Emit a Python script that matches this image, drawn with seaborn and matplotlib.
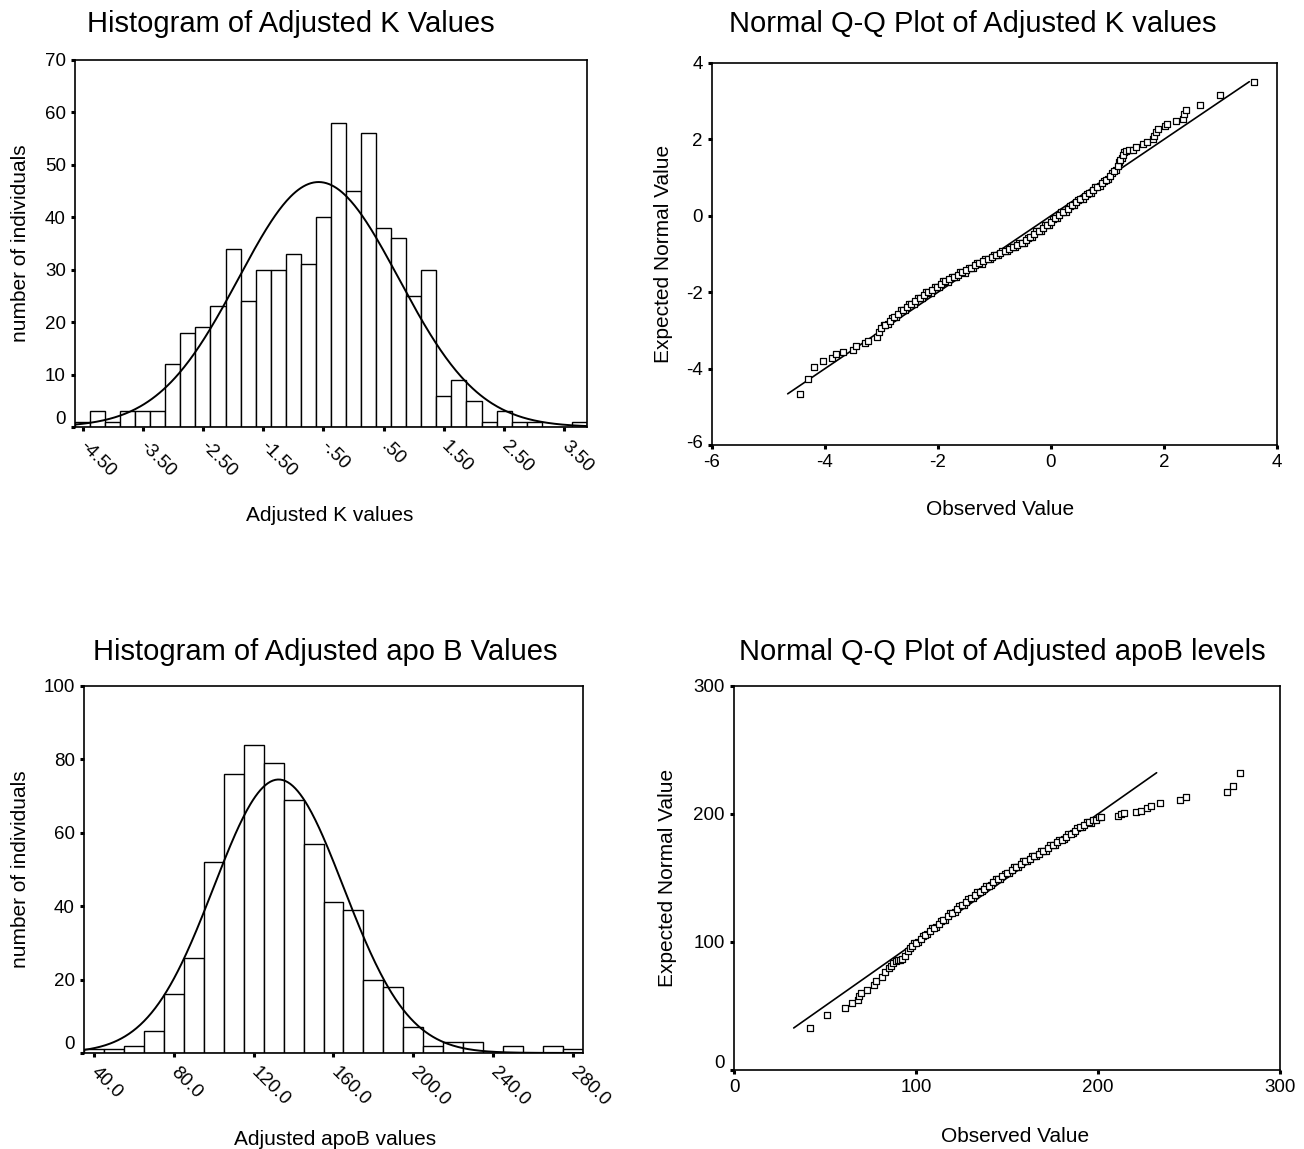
import numpy as np
import matplotlib
matplotlib.use("Agg")
import matplotlib.pyplot as plt
import matplotlib.transforms as mtransforms
import seaborn as sns

# ---- histogram of adjusted K values (bin centres, width 0.25) ----
k_centers = [-4.50, -4.25, -4.00, -3.75, -3.50, -3.25, -3.00, -2.75, -2.50, -2.25,
             -2.00, -1.75, -1.50, -1.25, -1.00, -0.75, -0.50, -0.25, 0.00, 0.25,
             0.50, 0.75, 1.00, 1.25, 1.50, 1.75, 2.00, 2.25, 2.50, 2.75,
             3.00, 3.25, 3.50, 3.75]
k_counts = [1, 3, 1, 3, 3, 3, 12, 18, 19, 23,
            34, 24, 30, 30, 33, 31, 40, 58, 45, 56,
            38, 36, 25, 30, 6, 9, 5, 1, 3, 1,
            1, 0, 0, 1]
k_tick_labels = ["-4.50", "-3.50", "-2.50", "-1.50", "-.50", ".50", "1.50", "2.50", "3.50"]
k_mean, k_sd = -0.58, 1.33

# ---- histogram of adjusted apoB values (bin centres, width 10) ----
b_centers = [40, 50, 60, 70, 80, 90, 100, 110, 120, 130, 140, 150, 160,
             170, 180, 190, 200, 210, 220, 230, 240, 250, 260, 270, 280]
b_counts = [1, 1, 2, 6, 16, 26, 52, 76, 84, 79, 69, 57, 41,
            39, 20, 18, 7, 2, 3, 3, 0, 2, 0, 2, 1]
b_tick_labels = ["40.0", "80.0", "120.0", "160.0", "200.0", "240.0", "280.0"]
b_mean, b_sd = 132.5, 32.5

# ---- normal Q-Q plot, adjusted K values (observed, expected) ----
k_observed = [-4.45, -4.30, -4.19, -4.03, -3.87, -3.80, -3.69, -3.51, -3.45, -3.30, -3.24, -3.08, -3.05,
              -3.00, -2.93, -2.85, -2.78, -2.70, -2.62, -2.55, -2.47, -2.40, -2.32,
              -2.25, -2.17, -2.10, -2.02, -1.95, -1.87, -1.80, -1.72, -1.65, -1.57,
              -1.50, -1.42, -1.35, -1.27, -1.20, -1.12, -1.05, -0.97, -0.90, -0.82,
              -0.75, -0.67, -0.60, -0.52, -0.45, -0.37, -0.30, -0.22, -0.15, -0.07,
              0.00, 0.07, 0.15, 0.22, 0.30, 0.37, 0.45, 0.52, 0.60, 0.67,
              0.75, 0.82, 0.90, 0.97, 1.05, 1.12, 1.18, 1.23, 1.28, 1.32,
              1.38, 1.45, 1.50, 1.63, 1.70, 1.80, 1.83, 1.86, 1.89, 2.01,
              2.06, 2.22, 2.34, 2.36, 2.39, 2.63, 2.99, 3.60]
k_expected = [-4.66, -4.28, -3.97, -3.80, -3.72, -3.61, -3.56, -3.52, -3.40, -3.33, -3.27, -3.16, -3.03,
              -2.95, -2.85, -2.75, -2.66, -2.56, -2.46, -2.38, -2.30, -2.22, -2.14,
              -2.07, -2.00, -1.93, -1.86, -1.79, -1.72, -1.66, -1.60, -1.54, -1.48,
              -1.42, -1.36, -1.30, -1.24, -1.18, -1.12, -1.07, -1.02, -0.97, -0.92,
              -0.87, -0.82, -0.76, -0.70, -0.64, -0.56, -0.48, -0.40, -0.32, -0.24,
              -0.15, -0.07, 0.02, 0.10, 0.19, 0.27, 0.35, 0.43, 0.51, 0.59,
              0.68, 0.76, 0.85, 0.94, 1.04, 1.16, 1.30, 1.45, 1.60, 1.70,
              1.72, 1.73, 1.80, 1.87, 1.93, 2.02, 2.10, 2.19, 2.26, 2.34,
              2.41, 2.47, 2.53, 2.66, 2.78, 2.91, 3.15, 3.51]
# second reading pass through the dense band (its thickness)
k_band_observed = [-2.96, -2.89, -2.81, -2.74, -2.66, -2.58, -2.51, -2.43, -2.36, -2.28,
                   -2.21, -2.13, -2.06, -1.98, -1.91, -1.83, -1.76, -1.68, -1.61, -1.53,
                   -1.46, -1.38, -1.31, -1.23, -1.16, -1.08, -1.01, -0.93, -0.86, -0.78,
                   -0.71, -0.63, -0.56, -0.48, -0.41, -0.33, -0.26, -0.18, -0.11, -0.03,
                   0.04, 0.11, 0.18, 0.26, 0.33, 0.41, 0.48, 0.56, 0.63, 0.71,
                   0.78, 0.86, 0.93, 1.01, 1.08, 1.15, 1.21, 1.25, 1.30]
k_band_expected = [-2.86, -2.84, -2.67, -2.65, -2.47, -2.46, -2.30, -2.30, -2.14, -2.15,
                   -2.00, -2.01, -1.86, -1.87, -1.72, -1.73, -1.60, -1.61, -1.48, -1.49,
                   -1.36, -1.37, -1.24, -1.25, -1.12, -1.13, -1.02, -1.03, -0.91, -0.93,
                   -0.82, -0.83, -0.70, -0.71, -0.57, -0.56, -0.41, -0.40, -0.25, -0.23,
                   -0.08, -0.06, 0.09, 0.11, 0.26, 0.28, 0.42, 0.44, 0.58, 0.60,
                   0.75, 0.78, 0.92, 0.96, 1.13, 1.20, 1.40, 1.50, 1.66]

# ---- normal Q-Q plot, adjusted apoB levels (observed, expected) ----
b_observed = [41.8, 51.1, 61.1, 64.9, 68.0, 68.4, 70.0, 73.3, 76.7, 78.2, 81.1,
              82.9, 84.9, 86.0, 87.3, 88.9, 90.0, 91.0, 92.5, 94.0, 95.6, 96.5,
              98, 100, 102.5, 105, 107.5, 110, 112.5, 115, 117.5, 120,
              122.5, 125, 127.5, 130, 132.5, 135, 137.5, 140,
              142.5, 145, 147.5, 150, 152.5, 155, 157.5, 160,
              162.5, 165, 167.5, 170, 172.5, 175, 177.5, 180,
              182.5, 185, 187.5, 190, 192.5, 195, 197,
              198.9, 200.7, 201.8, 211.1, 212.9, 214.4, 220.7, 223.8,
              226.7, 229.3, 233.8, 244.9, 248.2, 271.1, 274.0, 277.8]
b_expected = [32.8, 42.7, 48.4, 52.2, 54.8, 57.7, 60.3, 62.8, 66.5, 69.8, 72.4,
              76.3, 79.4, 81.5, 83.5, 85.3, 85.8, 86.0, 86.5, 89.2, 93.1, 95.0,
              96.5, 99.5, 102.5, 105.5, 108.3, 111, 114, 117, 120, 123,
              126, 128.8, 131.5, 134, 136.6, 139.2, 141.7, 144,
              146.5, 149, 151.3, 153.5, 156, 158.5, 160.8, 163,
              165, 167, 169, 171, 173.3, 175.5, 177.8, 180,
              182.3, 184.5, 187, 189.5, 191.5, 193.5, 195,
              195.2, 197.3, 197.8, 198.6, 199.6, 200.4, 201.7, 202.5,
              204.3, 206.1, 208.2, 210.8, 213.3, 217.0, 222.1, 232.2]
b_band_observed = [99, 101.2, 103.7, 106.2, 108.7, 111.2, 113.7, 116.2, 118.7, 121.2,
                   123.7, 126.2, 128.7, 131.2, 133.7, 136.2, 138.7, 141.2, 143.7, 146.2,
                   148.7, 151.2, 153.7, 156.2, 158.7, 161.2, 163.7, 166.2, 168.7, 171.2,
                   173.7, 176.2, 178.7, 181.2, 183.7, 186.2, 188.7, 191.2, 193.7, 196]
b_band_expected = [99, 100, 105, 105.9, 110.7, 111.5, 116.5, 117.5, 122.5, 123.5,
                   128.4, 129.2, 133.8, 134.3, 138.9, 139.5, 143.9, 144.3, 148.8, 149.2,
                   153.4, 153.8, 158.3, 158.7, 162.9, 163, 167, 167, 171, 171.2,
                   175.4, 175.7, 179.9, 180.2, 184.4, 184.8, 189.3, 189.5, 193.5, 193.3]

sns.set_style("white")
plt.rcParams['font.family'] = ['Liberation Sans', 'DejaVu Sans']
plt.rcParams['axes.unicode_minus'] = False
plt.rcParams['text.color'] = 'black'
plt.rcParams['axes.labelcolor'] = 'black'

fig = plt.figure(figsize=(13.04, 11.49), dpi=100)
ax_h1 = fig.add_axes([0.0575, 0.6284, 0.3926, 0.3194])
ax_q1 = fig.add_axes([0.5460, 0.6127, 0.4333, 0.3325])
ax_h2 = fig.add_axes([0.0644, 0.0836, 0.3827, 0.3194])
ax_q2 = fig.add_axes([0.5629, 0.0688, 0.4187, 0.3342])

TITLE_SIZE = 21
LABEL_SIZE = 15


def style_axes(ax):
    for sp in ax.spines.values():
        sp.set_visible(True)
        sp.set_color('black')
        sp.set_linewidth(1.2)
    ax.tick_params(axis='both', direction='out', length=3, width=2.2,
                   labelsize=13.5, colors='black', left=True, bottom=True)


def shift_label(lab, dx_px, dy_px):
    off = mtransforms.ScaledTranslation(dx_px / 100, dy_px / 100, fig.dpi_scale_trans)
    lab.set_transform(lab.get_transform() + off)


def set_labels(ax, xlabel, ylabel, xlab_pos, ylab_pos):
    ax.set_xlabel(xlabel, fontsize=LABEL_SIZE)
    ax.set_ylabel(ylabel, fontsize=LABEL_SIZE)
    ax.xaxis.set_label_coords(*xlab_pos)
    ax.yaxis.set_label_coords(*ylab_pos)
    ax.xaxis.label.set_va('center')
    ax.yaxis.label.set_va('center')


def histogram(ax, centers, counts, width, mean, sd, ticks, tick_labels, ymax, yticks,
              title, title_x, title_pad, xlabel, xlab_pos, ylab_pos):
    lo, hi = centers[0] - width / 2, centers[-1] + width / 2
    sns.histplot(x=centers, weights=counts, binwidth=width, binrange=(lo, hi),
                 color='white', edgecolor='black', linewidth=1.0, alpha=1, ax=ax)
    n = sum(counts)
    xs = np.linspace(lo, hi, 400)
    ys = n * width * np.exp(-0.5 * ((xs - mean) / sd) ** 2) / (sd * np.sqrt(2 * np.pi))
    sns.lineplot(x=xs, y=ys, color='black', linewidth=1.4, ax=ax)
    ax.set_xlim(lo, hi)
    ax.set_ylim(0, ymax)
    ax.set_yticks(yticks)
    ax.set_xticks(ticks)
    ax.set_xticklabels(tick_labels, rotation=-45, ha='left', va='top',
                       rotation_mode='anchor')
    style_axes(ax)
    ax.tick_params(axis='x', pad=6)
    for lab in ax.get_xticklabels():
        shift_label(lab, 6, 2)
    ax.set_title(title, fontsize=TITLE_SIZE, x=title_x, pad=title_pad)
    set_labels(ax, xlabel, 'number of individuals', xlab_pos, ylab_pos)


def qqplot(ax, observed, expected, band_obs, band_exp, lim, ticks, title, title_x,
           title_pad, xlab_pos, ylab_pos):
    line = [min(expected), max(expected)]
    sns.lineplot(x=line, y=line, color='black', linewidth=1.2, ax=ax)
    sns.scatterplot(x=band_obs, y=band_exp, marker='s', s=20, facecolor='white',
                    edgecolor='black', linewidth=0.9, ax=ax, zorder=3)
    sns.scatterplot(x=observed, y=expected, marker='s', s=20, facecolor='white',
                    edgecolor='black', linewidth=0.9, ax=ax, zorder=3)
    ax.set_xlim(*lim)
    ax.set_ylim(*lim)
    ax.set_xticks(ticks)
    ax.set_yticks(ticks)
    style_axes(ax)
    ax.set_title(title, fontsize=TITLE_SIZE, x=title_x, pad=title_pad)
    set_labels(ax, 'Observed Value', 'Expected Normal Value', xlab_pos, ylab_pos)


histogram(ax_h1, k_centers, k_counts, 0.25, k_mean, k_sd, k_centers[::4], k_tick_labels,
          70, range(0, 71, 10), 'Histogram of Adjusted K Values', 0.422, 20,
          'Adjusted K values', (0.498, -0.24), (-0.107, 0.5))
histogram(ax_h2, b_centers, b_counts, 10, b_mean, b_sd, b_centers[::4], b_tick_labels,
          100, range(0, 101, 20), 'Histogram of Adjusted apo B Values', 0.483, 19,
          'Adjusted apoB values', (0.503, -0.237), (-0.128, 0.5))
qqplot(ax_q1, k_observed, k_expected, k_band_observed, k_band_expected, (-6, 4),
       range(-6, 5, 2), 'Normal Q-Q Plot of Adjusted K values', 0.462, 22,
       (0.51, -0.17), (-0.085, 0.5))
qqplot(ax_q2, b_observed, b_expected, b_band_observed, b_band_expected, (0, 300),
       range(0, 301, 100), 'Normal Q-Q Plot of Adjusted apoB levels', 0.491, 19,
       (0.515, -0.174), (-0.121, 0.5))

# SPSS draws the lowest y tick label a little above the axis
shift_label(ax_h1.get_yticklabels()[0], 0, 9)
shift_label(ax_h2.get_yticklabels()[0], 0, 10)
shift_label(ax_q2.get_yticklabels()[0], 0, 8)
shift_label(ax_q1.get_yticklabels()[0], 0, 4)

fig.savefig('out.png', dpi=100, facecolor='white')
